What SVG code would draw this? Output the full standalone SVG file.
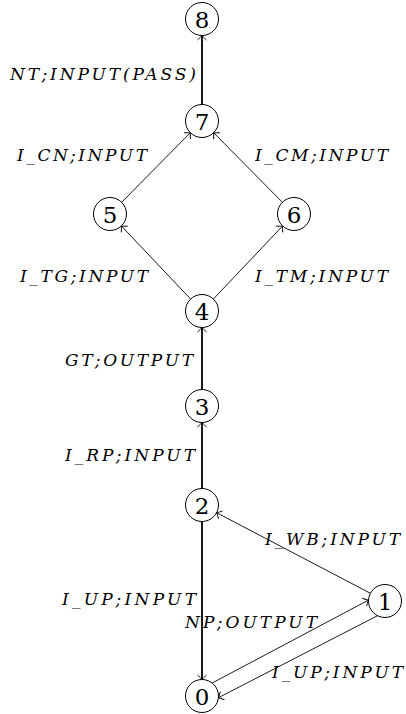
<svg xmlns="http://www.w3.org/2000/svg" width="406" height="714" viewBox="0 0 406 714">
<defs>
<style>
.node circle{fill:#fff;stroke:#000;stroke-width:1}
.thick{stroke:#000;stroke-width:1.8;fill:none}
.thin{stroke:#000;stroke-width:0.9;fill:none}
</style>
<marker id="ah" markerUnits="userSpaceOnUse" viewBox="-6 -6 8 12" markerWidth="8" markerHeight="12" refX="0" refY="0" orient="auto">
<path d="M-4.5,-4.5 Q-1.2,-0.8 0,0 Q-1.2,0.8 -4.5,4.5" fill="none" stroke="#000" stroke-width="0.9"/>
</marker>
</defs>
<rect width="406" height="714" fill="#fff"/>
<g id="connectors">
<line class="thick" x1="202" y1="104.5" x2="202" y2="35.5" marker-end="url(#ah)"/>
<line class="thin" x1="121.6" y1="202.3" x2="190.4" y2="132.7" marker-end="url(#ah)"/>
<line class="thin" x1="282.4" y1="202.3" x2="213.6" y2="132.7" marker-end="url(#ah)"/>
<line class="thin" x1="190.6" y1="299" x2="121.4" y2="226" marker-end="url(#ah)"/>
<line class="thin" x1="213.4" y1="299" x2="282.6" y2="226" marker-end="url(#ah)"/>
<line class="thick" x1="202" y1="389.5" x2="202" y2="327.5" marker-end="url(#ah)"/>
<line class="thick" x1="202" y1="488.5" x2="202" y2="422.5" marker-end="url(#ah)"/>
<line class="thick" x1="202" y1="521.5" x2="202" y2="679.5" marker-end="url(#ah)"/>
<line class="thin" x1="370.4" y1="593.3" x2="216.6" y2="512.7" marker-end="url(#ah)"/>
<line class="thin" x1="212.2" y1="683" x2="368.5" y2="600.1" marker-end="url(#ah)"/>
<line class="thin" x1="377.5" y1="615.7" x2="218.4" y2="697.7" marker-end="url(#ah)"/>
</g>
<g id="labels" font-family="DejaVu Serif, Liberation Serif, serif" font-style="italic" font-size="17" fill="#000">
<text x="10" y="80" textLength="186" lengthAdjust="spacing">NT;INPUT(PASS)</text>
<text x="17" y="161" textLength="130" lengthAdjust="spacing">I_CN;INPUT</text>
<text x="255" y="161" textLength="133" lengthAdjust="spacing">I_CM;INPUT</text>
<text x="20" y="282" textLength="128" lengthAdjust="spacing">I_TG;INPUT</text>
<text x="255" y="282" textLength="133" lengthAdjust="spacing">I_TM;INPUT</text>
<text x="65" y="366" textLength="128" lengthAdjust="spacing">GT;OUTPUT</text>
<text x="65" y="461" textLength="130" lengthAdjust="spacing">I_RP;INPUT</text>
<text x="265" y="545" textLength="135" lengthAdjust="spacing">I_WB;INPUT</text>
<text x="62" y="605" textLength="134" lengthAdjust="spacing">I_UP;INPUT</text>
<text x="185" y="628" textLength="132" lengthAdjust="spacing">NP;OUTPUT</text>
<text x="272" y="678" textLength="131" lengthAdjust="spacing">I_UP;INPUT</text>
</g>
<g font-family="DejaVu Serif, Liberation Serif, serif" font-size="23" text-anchor="middle" fill="#000">
<g id="node8" class="node"><circle cx="202" cy="19" r="16.5"/><text x="202" y="27.5">8</text></g>
<g id="node7" class="node"><circle cx="202" cy="121" r="16.5"/><text x="202" y="129.5">7</text></g>
<g id="node5" class="node"><circle cx="110" cy="214" r="16.5"/><text x="110" y="222.5">5</text></g>
<g id="node6" class="node"><circle cx="294" cy="214" r="16.5"/><text x="294" y="222.5">6</text></g>
<g id="node4" class="node"><circle cx="202" cy="311" r="16.5"/><text x="202" y="319.5">4</text></g>
<g id="node3" class="node"><circle cx="202" cy="406" r="16.5"/><text x="202" y="414.5">3</text></g>
<g id="node2" class="node"><circle cx="202" cy="505" r="16.5"/><text x="202" y="513.5">2</text></g>
<g id="node1" class="node"><circle cx="385" cy="601" r="16.5"/><text x="385" y="609.5">1</text></g>
<g id="node0" class="node"><circle cx="202" cy="696" r="16.5"/><text x="202" y="704.5">0</text></g>
</g>
</svg>
